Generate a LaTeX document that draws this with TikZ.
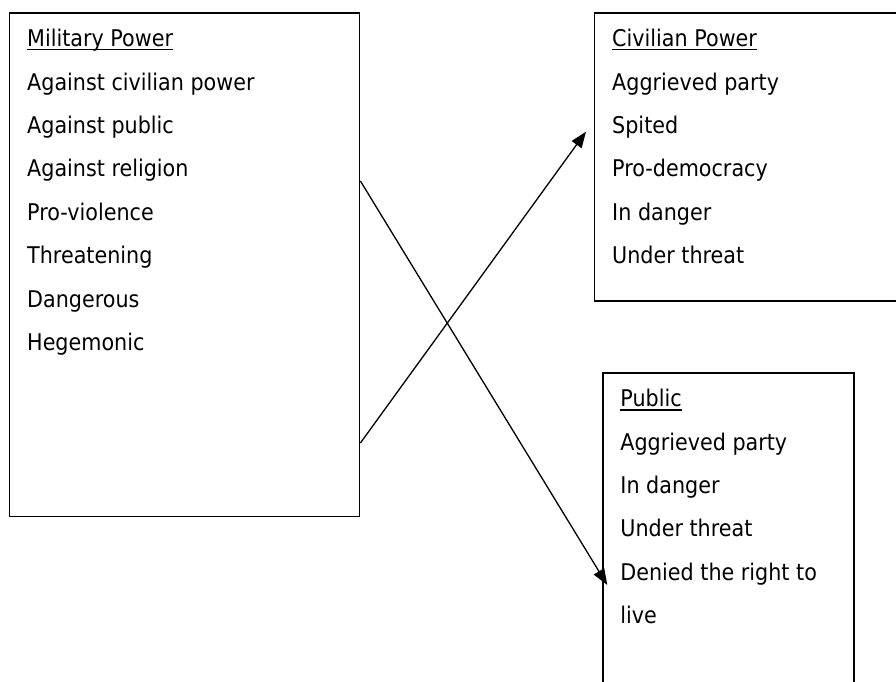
\documentclass[tikz,border=0pt]{standalone}
\usepackage{fontspec}
\setmainfont{DejaVu Sans}[FakeStretch=0.9]
\usepackage{tikz}
\usetikzlibrary{calc}
\usetikzlibrary{math}
\usetikzlibrary{arrows.meta}
\newcommand{\headu}[1]{\setbox0\hbox{#1}\rlap{\rule[-3.8pt]{\wd0}{1.5pt}}\box0}
\tikzset{
  boite/.style={draw, line width=1.9pt, rectangle, inner sep=0pt, anchor=north west},
  ligne/.style={anchor=base west, inner sep=0pt, font=\fontsize{23}{27}\selectfont},
  fleche/.style={line width=1.3pt, -{Triangle[length=16pt,width=12pt]}}
}
\begin{document}
\begin{tikzpicture}[x=1pt,y=-1pt]
            \tikzmath{\pas = 43.4; \dx = 18.5; \dy = 34.7;}
                \useasboundingbox (0,0) rectangle (896,682);
                \clip (0,0) rectangle (896,682);
                \node[boite, minimum width=350pt, minimum height=503.5pt] (mil) at (8.5,12) {};
                \node[boite, minimum width=330pt, minimum height=288pt] (civ) at (593.5,12) {};
                \node[boite, minimum width=251pt, minimum height=340pt] (pub) at (601.7,372) {};
                \node[ligne] (mil-0) at ($(mil.north west)+(\dx,\dy)$) {\headu{Military Power}};
                \foreach \txt [count=\i] in {Against civilian power, Against public, Against religion, Pro-violence, Threatening, Dangerous, Hegemonic}
                    \node[ligne] (mil-\i) at ($(mil.north west)+(\dx,\dy+\i*\pas)$) {\txt};
                \node[ligne] (civ-0) at ($(civ.north west)+(\dx,\dy)$) {\headu{Civilian Power}};
                \foreach \txt [count=\i] in {Aggrieved party, Spited, Pro-democracy, In danger, Under threat}
                    \node[ligne] (civ-\i) at ($(civ.north west)+(\dx,\dy+\i*\pas)$) {\txt};
                \node[ligne] (pub-0) at ($(pub.north west)+(\dx,\dy)$) {\headu{Public}};
                \foreach \txt [count=\i] in {Aggrieved party, In danger, Under threat, Denied the right to, live}
                    \node[ligne] (pub-\i) at ($(pub.north west)+(\dx,\dy+\i*\pas)$) {\txt};
                \coordinate (s1) at ($(mil.north east)+(0,169)$);
                \coordinate (e1) at ($(pub.north west)+(5.6,213)$);
                \coordinate (s2) at ($(mil.north east)+(0,431)$);
                \coordinate (e2) at ($(civ.north west)+(-7.5,119.7)$);
                \draw[fleche] (s1) -- (e1);
                \draw[fleche] (s2) -- (e2);
            \end{tikzpicture}
\end{document}
